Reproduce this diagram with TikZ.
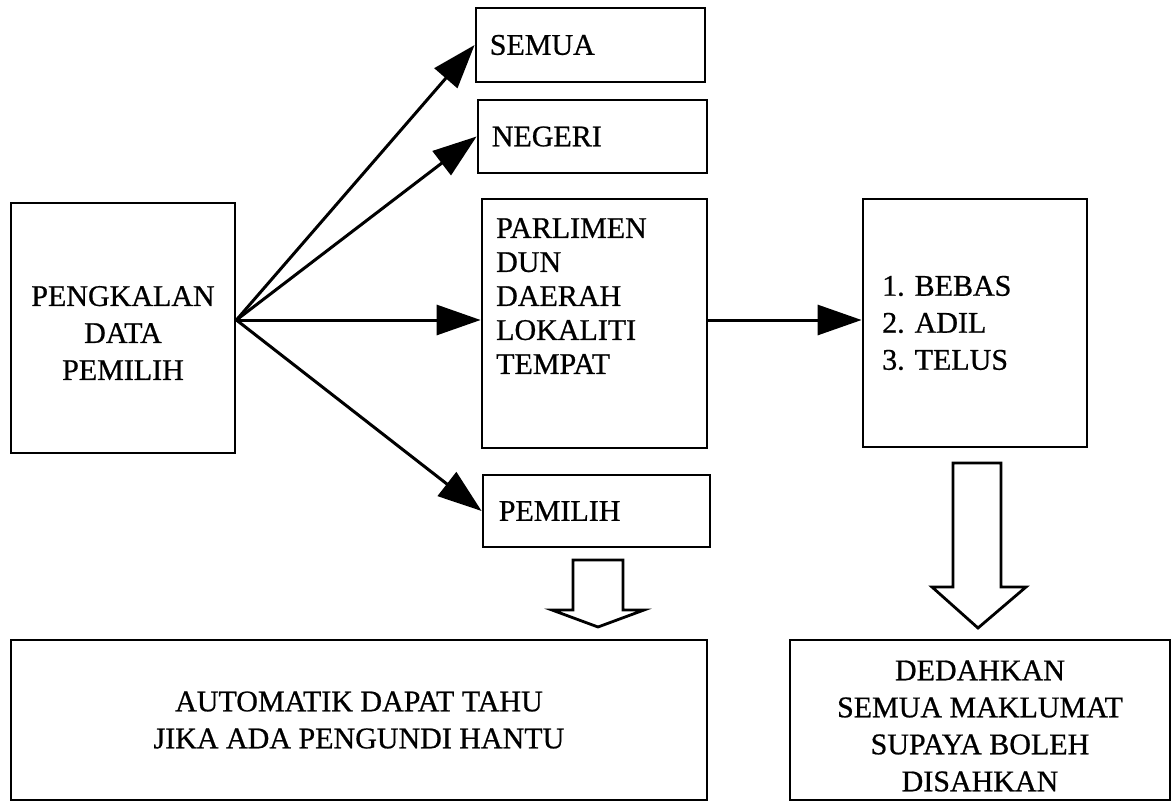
\documentclass[tikz,border=0pt]{standalone}
\usepackage{fontspec}
\setmainfont{Liberation Serif}
\newfontfamily\scanfont{Liberation Serif}[FakeBold=0.7]
\usetikzlibrary{arrows.meta}
\begin{document}
\begin{tikzpicture}[x=1pt,y=-1pt,
  box/.style={draw, line width=2.8pt, rectangle, inner sep=0pt},
  txt/.style={font=\scanfont\fontsize{30}{37}\selectfont, inner sep=0pt},
  arr/.style={line width=3pt, -{Triangle[length=44pt,width=30pt]}},
  blockarrow/.style={draw, line width=2.8pt, fill=white, line join=miter}]
\useasboundingbox (0,0) rectangle (1173,803);
\fill[white] (0,0) rectangle (1173,803);

% boxes
\node[box, minimum width=224pt, minimum height=250pt] (PK) at (123,328) {};
\node[box, minimum width=229pt, minimum height=74pt] (SEMUA) at (590.5,45) {};
\node[box, minimum width=229pt, minimum height=73pt] (NEGERI) at (592.5,136.5) {};
\node[box, minimum width=225pt, minimum height=249pt] (PARL) at (594.5,323.5) {};
\node[box, minimum width=227pt, minimum height=72pt] (PEM) at (596.5,511) {};
\node[box, minimum width=224pt, minimum height=248pt] (BEBAS) at (975,323) {};
\node[box, minimum width=696pt, minimum height=160pt] (AUTO) at (359,720) {};
\node[box, minimum width=380pt, minimum height=160pt] (DEDAH) at (980,720) {};

% texts
\node[txt, align=center] (PKt) at (123,333) {PENGKALAN\\DATA\\PEMILIH};
\node[txt, anchor=west] (SEMUAt) at ([xshift=15pt]SEMUA.west) {SEMUA};
\node[txt, anchor=west] (NEGERIt) at ([xshift=15pt]NEGERI.west) {NEGERI};
\node[txt, anchor=west, align=left, font=\scanfont\fontsize{30}{34}\selectfont] (PARLt) at (496,296) {PARLIMEN\\DUN\\DAERAH\\LOKALITI\\TEMPAT};
\node[txt, anchor=west] (PEMt) at ([xshift=17pt]PEM.west) {PEMILIH};
\node[txt, anchor=west, align=left] (BEBASt) at (882,323) {1. BEBAS\\2. ADIL\\3. TELUS};
\node[txt, align=center] (AUTOt) at (359,720) {AUTOMATIK DAPAT TAHU\\JIKA ADA PENGUNDI HANTU};
\node[txt, align=center] (DEDAHt) at (980,726) {DEDAHKAN\\SEMUA MAKLUMAT\\SUPAYA BOLEH\\DISAHKAN};

% fan of arrows
\coordinate (fan) at (PK.east |- 0,320);
\draw[arr] (fan) -- (SEMUA.west);
\draw[arr] (fan) -- (NEGERI.west);
\draw[arr] (fan) -- (PARL.west |- fan);
\draw[arr] (fan) -- (PEM.west);
\draw[arr] (PARL.east |- fan) -- (BEBAS.west |- fan);

% block arrows
\draw[blockarrow] (573,560) -- (623,560) -- (623,610) -- (644,610) -- (598,627) -- (552,610) -- (573,610) -- cycle;
\draw[blockarrow] (953,463) -- (1001,463) -- (1001,587) -- (1026,587) -- (978,628) -- (932,587) -- (953,587) -- cycle;
\end{tikzpicture}
\end{document}
